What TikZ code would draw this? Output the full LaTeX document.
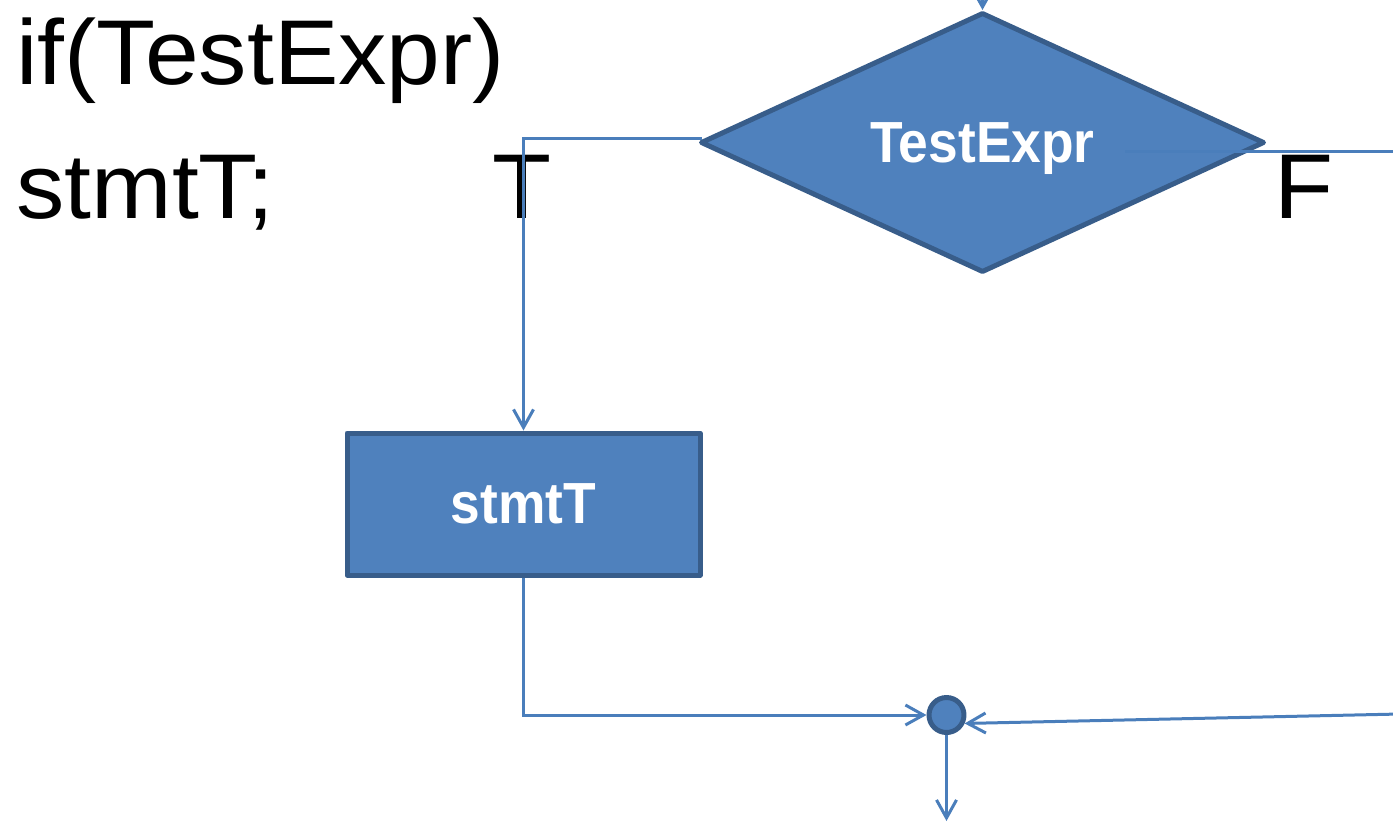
\documentclass[tikz,border=0pt]{standalone}
\usepackage{fontspec}
\setmainfont{Liberation Sans}
\newfontfamily\codefont[FakeStretch=1.05]{Liberation Sans}
\newfontfamily\shapefont[FakeStretch=0.92]{Liberation Sans}
\usetikzlibrary{shapes.geometric,arrows.meta}
\definecolor{boxfill}{HTML}{4F81BD}
\definecolor{boxedge}{HTML}{385D8A}
\definecolor{wire}{HTML}{4A7EBB}
\tikzset{
  shapebase/.style={fill=boxfill,draw=boxedge,line width=2.5pt,line join=round,
    inner sep=0pt,text=white,text depth=0pt,
    font=\shapefont\bfseries\fontsize{29}{32}\selectfont},
  decision/.style={shapebase,diamond,aspect=2,minimum width=282pt,minimum height=130pt},
  stmtbox/.style={shapebase,rectangle,minimum width=176.5pt,minimum height=71pt},
  joint/.style={shapebase,circle,minimum size=17.5pt},
  wire/.style={draw=wire,line width=1.5pt},
  flow/.style={wire,-{Straight Barb[length=9pt,width=10pt,line width=1.5pt]}},
  bigtext/.style={inner sep=0pt,font=\codefont\fontsize{46}{50}\selectfont}
}
\begin{document}
\begin{tikzpicture}[x=0.5pt,y=-0.5pt]
  \useasboundingbox (0,0) rectangle (1393,821);
  \clip (0,0) rectangle (1393,821);

  % code listing
  \node[bigtext,anchor=base west] (code1) at (16,84) {if(TestExpr)};
  \node[bigtext,anchor=base west] (code2) at (16,218) {stmtT;};
  \node[bigtext,anchor=base] (tlab) at (522,218) {T};
  \node[bigtext,anchor=base] (flab) at (1304,218) {F};

  % flowchart shapes
  \node[decision] (test) at (982.5,142.5) {TestExpr};
  \node[stmtbox] (stmt) at (523.5,504) {stmtT};
  \node[joint] (join) at (946.5,715) {};

  % free ends of the connectors
  \coordinate (entry) at (982.5,-30);
  \coordinate (tbranch) at (702,138);
  \coordinate (fstart) at (1125,151);
  \coordinate (fout) at (1400,151);
  \coordinate (fin) at (1400,714);
  \coordinate (exit) at (946.5,821);

  % connectors
  \draw[flow] (entry) -- (test.north);
  \draw[flow] (tbranch) -| (stmt.north);
  \draw[wire] (fstart) -- (fout);
  \draw[flow] (stmt.south) |- (join.west);
  \draw[flow] (fin) -- (join.-25);
  \draw[flow] (join.south) -- (exit);
\end{tikzpicture}
\end{document}
